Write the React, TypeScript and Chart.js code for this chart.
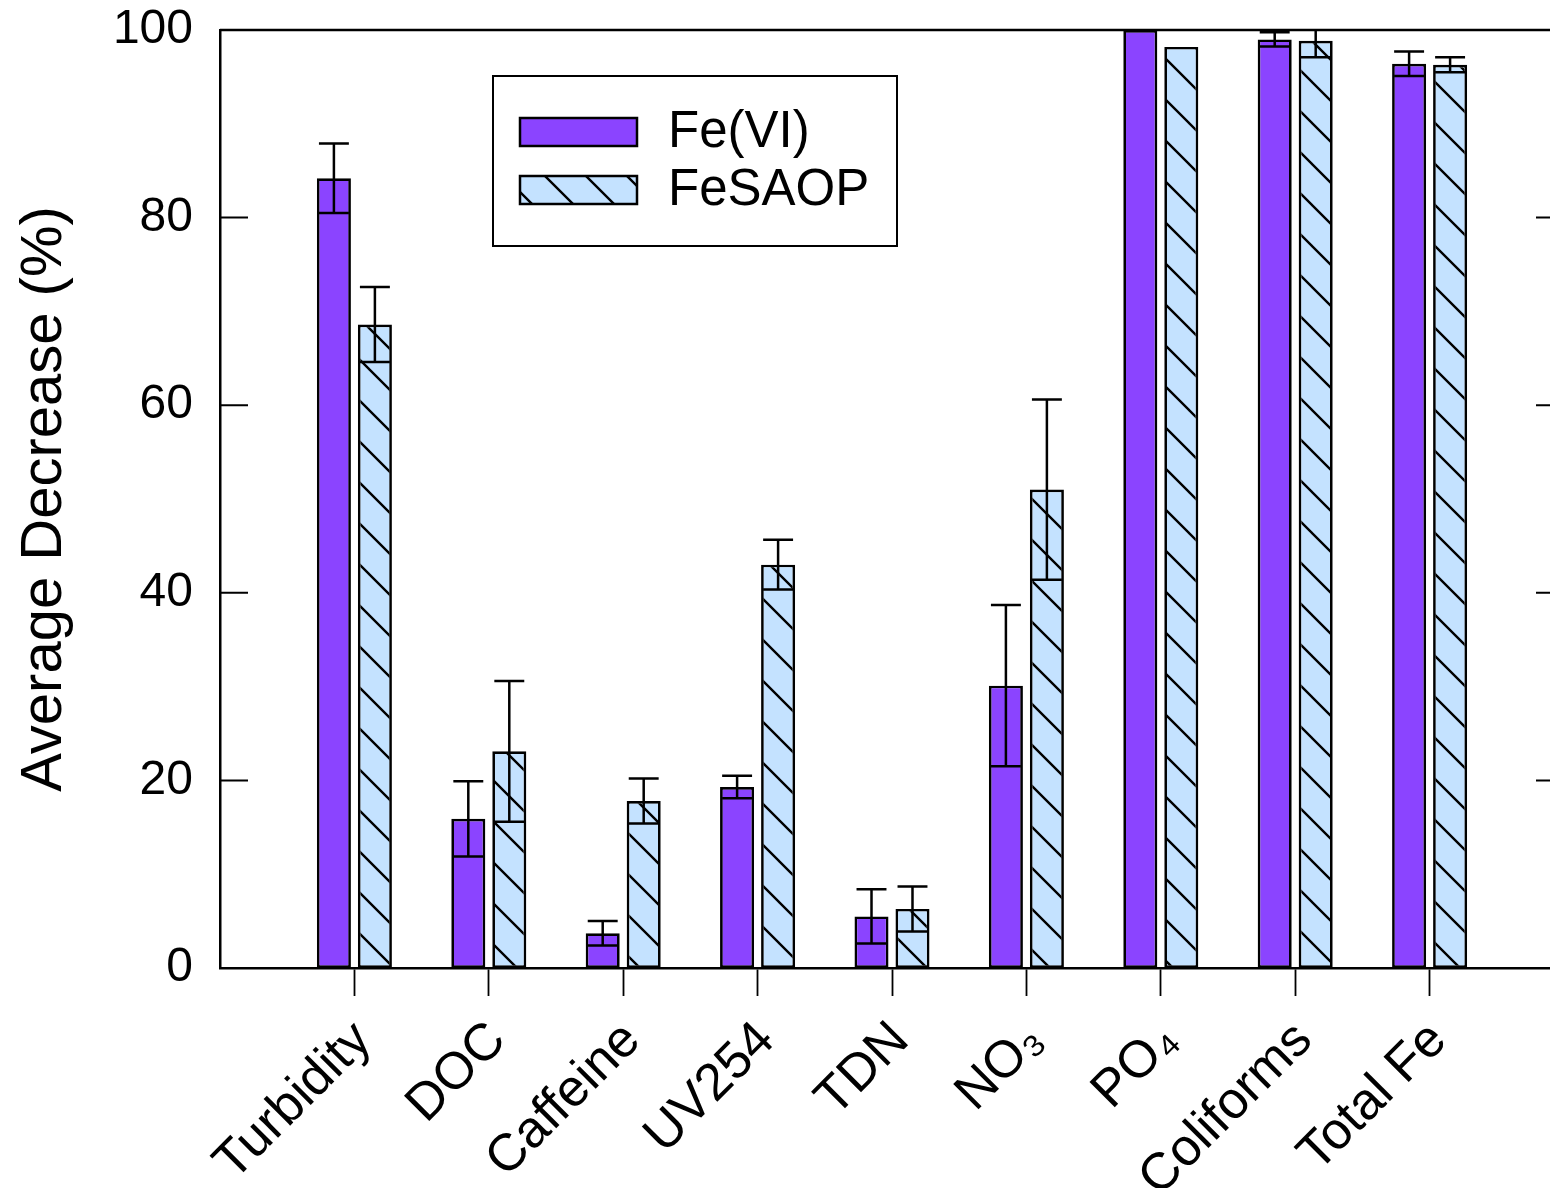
import React, { useEffect, useRef } from "react";
import { Chart, registerables } from "chart.js";

Chart.register(...registerables);

const categories = ["Turbidity", "DOC", "Caffeine", "UV254", "TDN", "NO₃", "PO₄", "Coliforms", "Total Fe"];
const fe6Values = [84.2, 15.9, 3.7, 19.3, 5.5, 30.1, 100, 99.0, 96.4];
const fe6Errors = [3.7, 4.0, 1.3, 1.2, 2.9, 8.6, 0, 0.75, 1.3];
const fesaopValues = [68.6, 23.1, 17.8, 43.0, 6.3, 51.0, 98.2, 98.85, 96.3];
const fesaopErrors = [4.0, 7.5, 2.4, 2.65, 2.4, 9.6, 0, 1.75, 0.8];
const seriesLabels = ["Fe(VI)", "FeSAOP"];
const yTicks = [0, 20, 40, 60, 80, 100];

const FONT = "'Liberation Sans', Arial, Helvetica, sans-serif";
const PURPLE = "#8B44FF";
const LIGHTBLUE = "#C4E2FF";

function makeHatch(ctx: CanvasRenderingContext2D) {
  const s = 41;
  const c = document.createElement("canvas");
  c.width = s;
  c.height = s;
  const g = c.getContext("2d")!;
  g.fillStyle = LIGHTBLUE;
  g.fillRect(0, 0, s, s);
  g.strokeStyle = "#000";
  g.lineWidth = 2.4;
  g.beginPath();
  for (let k = -1; k <= 1; k++) {
    g.moveTo(k * s - 2, -2);
    g.lineTo(k * s + s + 2, s + 2);
  }
  g.stroke();
  return ctx.createPattern(c, "repeat")!;
}

const errorBarPlugin = {
  id: "errorBars",
  afterDatasetsDraw(chart: any) {
    const { ctx, chartArea: a } = chart;
    const yScale = chart.scales.y;
    ctx.save();
    ctx.beginPath();
    ctx.rect(a.left, a.top - 1, a.right - a.left, a.bottom - a.top + 2);
    ctx.clip();
    ctx.strokeStyle = "#000";
    ctx.lineWidth = 2.5;
    chart.data.datasets.forEach((ds: any, di: number) => {
      const meta = chart.getDatasetMeta(di);
      meta.data.forEach((bar: any, i: number) => {
        const err = ds.errors[i];
        if (!err) return;
        const v = ds.data[i].y;
        const yTop = yScale.getPixelForValue(v + err);
        const yBot = yScale.getPixelForValue(v - err);
        const half = bar.width * 0.44;
        ctx.beginPath();
        ctx.moveTo(bar.x, yTop);
        ctx.lineTo(bar.x, yBot);
        ctx.moveTo(bar.x - half, yTop);
        ctx.lineTo(bar.x + half, yTop);
        ctx.moveTo(bar.x - half, yBot);
        ctx.lineTo(bar.x + half, yBot);
        ctx.stroke();
      });
    });
    ctx.restore();
  },
};

const framePlugin = {
  id: "frame",
  afterDraw(chart: any) {
    const { ctx, chartArea: a } = chart;
    const yScale = chart.scales.y;
    ctx.save();
    ctx.strokeStyle = "#000";
    ctx.lineWidth = 2.5;
    ctx.beginPath();
    ctx.moveTo(a.left, a.top);
    ctx.lineTo(a.right, a.top);
    ctx.lineTo(a.right, a.bottom);
    ctx.stroke();
    ctx.lineWidth = 2;
    ctx.beginPath();
    yTicks.forEach((t) => {
      const y = yScale.getPixelForValue(t);
      ctx.moveTo(a.left, y);
      ctx.lineTo(a.left + 28, y);
      ctx.moveTo(a.right, y);
      ctx.lineTo(a.right - 28, y);
    });
    ctx.stroke();

    // legend
    const bx = a.left + 273;
    const by = a.top + 46;
    const bw = 404;
    const bh = 170;
    ctx.fillStyle = "#fff";
    ctx.fillRect(bx, by, bw, bh);
    ctx.lineWidth = 2;
    ctx.strokeRect(bx, by, bw, bh);
    chart.data.datasets.forEach((ds: any, i: number) => {
      const sy = by + 42 + i * 58;
      ctx.fillStyle = ds.backgroundColor;
      ctx.fillRect(bx + 27, sy, 117, 28);
      ctx.lineWidth = 2.5;
      ctx.strokeRect(bx + 27, sy, 117, 28);
      ctx.fillStyle = "#000";
      ctx.font = `51px ${FONT}`;
      ctx.textAlign = "left";
      ctx.textBaseline = "middle";
      ctx.fillText(ds.label, bx + 175, sy + 15);
    });
    ctx.restore();
  },
};

export default function App() {
  const canvasRef = useRef<HTMLCanvasElement | null>(null);

  useEffect(() => {
    const canvas = canvasRef.current!;
    const ctx = canvas.getContext("2d")!;
    const hatch = makeHatch(ctx);
    const chart = new Chart(ctx, {
      type: "bar",
      data: {
        datasets: [
          {
            label: seriesLabels[0],
            data: fe6Values.map((v, i) => ({ x: i + 1, y: v })),
            errors: fe6Errors,
            backgroundColor: PURPLE,
            borderColor: "#000",
            borderWidth: 2.7,
            borderSkipped: false,
          } as any,
          {
            label: seriesLabels[1],
            data: fesaopValues.map((v, i) => ({ x: i + 1, y: v })),
            errors: fesaopErrors,
            backgroundColor: hatch,
            borderColor: "#000",
            borderWidth: 2.7,
            borderSkipped: false,
          } as any,
        ],
      },
      options: {
        animation: false,
        responsive: false,
        maintainAspectRatio: false,
        datasets: { bar: { categoryPercentage: 0.61, barPercentage: 0.83 } },
        layout: { padding: { top: 30, right: 16, left: 0, bottom: 0 } },
        plugins: { legend: { display: false }, tooltip: { enabled: false } },
        scales: {
          x: {
            type: "linear",
            min: 0,
            max: 10,
            offset: false,
            afterBuildTicks: (scale: any) => {
              scale.ticks = categories.map((_, i) => ({ value: i + 1 }));
            },
            afterFit: (scale: any) => {
              scale.height = 220;
            },
            grid: {
              display: true,
              offset: false,
              drawOnChartArea: false,
              drawTicks: true,
              tickLength: 28,
              tickColor: "#000",
              tickWidth: 1.8,
            },
            border: { display: true, color: "#000", width: 2.5 },
            ticks: {
              autoSkip: false,
              minRotation: 45,
              maxRotation: 45,
              padding: 14,
              labelOffset: 9,
              color: "#000",
              font: { family: FONT, size: 52 },
              callback: (v: any) => categories[Number(v) - 1] ?? "",
            },
          },
          y: {
            min: 0,
            max: 100,
            afterBuildTicks: (scale: any) => {
              scale.ticks = yTicks.map((v) => ({ value: v }));
            },
            afterFit: (scale: any) => {
              scale.width = 220;
              scale.paddingTop = 0;
              scale.paddingBottom = 0;
            },
            grid: { display: false, drawTicks: false },
            border: { display: true, color: "#000", width: 2.5 },
            ticks: {
              padding: 27,
              color: "#000",
              font: { family: FONT, size: 48 },
            },
            title: {
              display: true,
              text: "Average Decrease (%)",
              color: "#000",
              font: { family: FONT, size: 58 },
              padding: { top: 10, bottom: 0 },
            },
          },
        },
      } as any,
      plugins: [errorBarPlugin, framePlugin],
    });
    return () => chart.destroy();
  }, []);

  return (
    <div
      style={{
        position: "absolute",
        left: 0,
        top: 0,
        width: 1550,
        height: 1188,
        overflow: "hidden",
        background: "#fff",
      }}
    >
      <canvas ref={canvasRef} width={1580} height={1188} style={{ display: "block" }} />
    </div>
  );
}
